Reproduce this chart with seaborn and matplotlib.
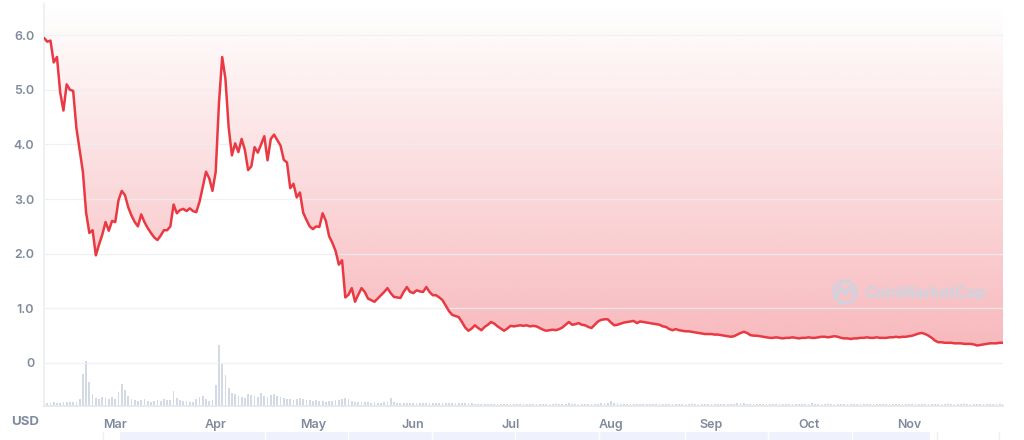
import matplotlib

matplotlib.use("Agg")
import matplotlib.dates as mdates
import matplotlib.pyplot as plt
import numpy as np
import pandas as pd
import seaborn as sns
from matplotlib.colors import to_rgb
from matplotlib.patches import Circle, Rectangle
from matplotlib.transforms import IdentityTransform

START_DATE = "2022-02-07"

# daily close, USD
PRICE_USD = [
    5.95, 5.88, 5.9, 5.5, 5.6, 4.95, 4.62, 5.1, 5.0, 4.98,
    4.3, 3.9, 3.5, 2.75, 2.38, 2.43, 1.97, 2.17, 2.35, 2.58,
    2.42, 2.6, 2.58, 2.98, 3.15, 3.07, 2.85, 2.7, 2.58, 2.5,
    2.72, 2.58, 2.47, 2.38, 2.3, 2.25, 2.33, 2.43, 2.43, 2.5,
    2.9, 2.74, 2.8, 2.82, 2.78, 2.83, 2.78, 2.76, 2.95, 3.22,
    3.5, 3.38, 3.15, 3.5, 4.75, 5.6, 5.2, 4.31, 3.8, 4.02,
    3.86, 4.1, 3.9, 3.53, 3.6, 3.95, 3.85, 4.0, 4.15, 3.71,
    4.1, 4.18, 4.08, 3.98, 3.72, 3.67, 3.2, 3.28, 3.03, 3.12,
    2.75, 2.62, 2.5, 2.45, 2.5, 2.49, 2.74, 2.6, 2.32, 2.2,
    2.05, 1.8, 1.88, 1.2, 1.25, 1.37, 1.12, 1.25, 1.37, 1.3,
    1.18, 1.15, 1.12, 1.18, 1.24, 1.3, 1.37, 1.28, 1.21, 1.2,
    1.19, 1.3, 1.39, 1.3, 1.28, 1.33, 1.31, 1.3, 1.39, 1.3,
    1.24, 1.24, 1.2, 1.15, 1.05, 0.95, 0.88, 0.86, 0.84, 0.75,
    0.65, 0.59, 0.63, 0.69, 0.64, 0.6, 0.66, 0.7, 0.75, 0.72,
    0.67, 0.63, 0.59, 0.63, 0.68, 0.67, 0.68, 0.69, 0.68, 0.69,
    0.67, 0.68, 0.67, 0.64, 0.61, 0.59, 0.6, 0.61, 0.6, 0.62,
    0.65, 0.7, 0.75, 0.7, 0.71, 0.73, 0.7, 0.69, 0.66, 0.64,
    0.7, 0.76, 0.79, 0.8, 0.8, 0.74, 0.69, 0.7, 0.72, 0.74,
    0.75, 0.76, 0.77, 0.73, 0.76, 0.75, 0.74, 0.73, 0.72, 0.71,
    0.7, 0.67, 0.66, 0.62, 0.6, 0.62, 0.6, 0.59, 0.58, 0.58,
    0.57, 0.56, 0.55, 0.54, 0.53, 0.53, 0.53, 0.52, 0.52, 0.51,
    0.5, 0.49, 0.48, 0.49, 0.52, 0.55, 0.57, 0.55, 0.51, 0.5,
    0.5, 0.49, 0.48, 0.47, 0.46, 0.46, 0.47, 0.46, 0.45, 0.46,
    0.46, 0.47, 0.46, 0.45, 0.46, 0.46, 0.47, 0.46, 0.46, 0.47,
    0.48, 0.48, 0.47, 0.48, 0.49, 0.48, 0.46, 0.45, 0.45, 0.44,
    0.45, 0.45, 0.46, 0.46, 0.47, 0.46, 0.46, 0.47, 0.46, 0.46,
    0.46, 0.47, 0.47, 0.48, 0.47, 0.48, 0.48, 0.49, 0.5, 0.52,
    0.54, 0.55, 0.53, 0.5, 0.46, 0.41, 0.38, 0.38, 0.37, 0.37,
    0.37, 0.36, 0.36, 0.36, 0.35, 0.35, 0.35, 0.34, 0.32, 0.33,
    0.34, 0.35, 0.36, 0.36, 0.36, 0.37, 0.37,
]

# daily traded volume, relative units
VOLUME = [
    3, 3, 3, 3.5, 3, 3, 4, 4, 4, 3.5,
    4, 7, 32, 45, 24, 12, 8, 7, 9, 8,
    7, 9, 7, 14, 22, 16, 10, 7, 6, 5,
    6, 7, 5, 4, 5, 6, 5, 7, 6, 6,
    15, 8, 6, 5, 5, 4, 4, 7, 9, 10,
    7, 5, 6, 21, 61, 42, 31, 18, 13, 12,
    10, 9, 8, 12, 11, 10, 9, 13, 10, 9,
    11, 12, 10, 9, 8, 7, 7, 6, 7, 8,
    7, 6, 6, 5, 6, 5, 5, 4, 5, 5,
    6, 6, 7, 8, 7, 5, 4, 4, 3.5, 4,
    3.5, 3, 3.5, 3, 3, 3.5, 4, 8, 3.5, 3,
    3, 2.5, 3, 2.5, 2.5, 3, 2.5, 2.5, 3, 2.5,
    2.5, 2.5, 2.5, 3, 2.5, 3, 3, 2.5, 2.5, 2.5,
    2.5, 3, 2.5, 2, 2, 2, 2, 2, 2, 2,
    2, 2, 2, 2, 2, 1.5, 1.5, 1.5, 1.5, 1.5,
    1.5, 1.5, 1.5, 1.5, 1.5, 1.5, 1.5, 1.5, 1.5, 2,
    2, 2, 2.5, 2, 2, 2, 2, 2, 2, 2,
    2, 2, 2.5, 2.5, 3, 5, 3, 2.5, 2, 2,
    2, 2, 2, 1.5, 1.5, 1.5, 1.5, 1.5, 1.5, 1.5,
    1.5, 1.5, 1.5, 1.5, 1.5, 1.5, 1.5, 1.5, 1.5, 1.5,
    1.5, 1.5, 2, 1.5, 1.5, 2, 1.5, 1.5, 1.5, 1.5,
    1.5, 1.5, 1.5, 2, 3, 2.5, 2.5, 2, 2, 1.5,
    1.5, 1.5, 1.5, 1.5, 1.5, 1.5, 1.5, 2, 1.5, 1.5,
    1.5, 1.5, 1.5, 2, 2, 1.5, 2, 2.5, 2, 1.5,
    1.5, 1.5, 1.5, 2, 1.5, 1.5, 1.5, 1.5, 1.5, 1.5,
    1.5, 1.5, 1.5, 1.5, 1.5, 1.5, 1.5, 1.5, 1.5, 1.5,
    1.5, 1.5, 1.5, 1.5, 1.5, 1.5, 2, 2, 1.5, 1.5,
    2, 2, 1.5, 1.5, 2, 2, 1.5, 1.5, 1.5, 1.5,
    1.5, 1.5, 1.5, 1.5, 1.5, 1.5, 1.5, 1.5, 1.5, 1.5,
    1.5, 1.5, 1.5, 1.5, 1.5, 1.5, 1.5,
]

Y_TICKS = [0, 1, 2, 3, 4, 5, 6]
Y_TICK_LABELS = ["0", "1.0", "2.0", "3.0", "4.0", "5.0", "6.0"]
CURRENCY_LABEL = "USD"
WATERMARK = "CoinMarketCap"

RED = "#ea3943"
GREY_TEXT = "#808a9d"
GRID = "#eceff3"
W, H = 1024, 440


def main() -> None:
    df = pd.DataFrame(
        {
            "date": pd.date_range(START_DATE, periods=len(PRICE_USD), freq="D"),
            "price": PRICE_USD,
            "volume": VOLUME,
        }
    )

    sns.set_theme(style="white")
    plt.rcParams["font.family"] = ["Inter", "DejaVu Sans"]

    fig = plt.figure(figsize=(W / 100, H / 100), dpi=100)
    ax = fig.add_axes([44 / W, (H - 406) / H, (1003 - 44) / W, (406 - 4) / H])
    y_low, y_top = -0.787, 6.57
    x0, x1 = df["date"].iloc[0], df["date"].iloc[-1]

    # volume bars on a hidden twin axis at the bottom
    ax2 = ax.twinx()
    ax2.bar(df["date"], df["volume"], width=0.55, color="#d3d9e5", linewidth=0, zorder=1)
    ax2.set_ylim(0, max(VOLUME) / 0.152)
    ax2.axis("off")

    # gradient fill between the price line and the top
    xn = mdates.date2num(df["date"])
    poly = ax.fill_between(xn, df["price"], y_top, facecolor="none", edgecolor="none")
    grad = np.linspace(0, 1, 256).reshape(-1, 1)
    rgba = np.zeros((256, 1, 4))
    rgba[..., :3] = to_rgb(RED)
    rgba[..., 3] = 0.37 * (1 - grad)
    im = ax.imshow(
        rgba, extent=[xn[0], xn[-1], 0, y_top], origin="lower", aspect="auto", zorder=0.5
    )
    im.set_clip_path(poly.get_paths()[0], transform=ax.transData)
    ax.set_xlim(x0, x1)
    ax.set_ylim(y_low, y_top)

    for t in Y_TICKS:
        ax.axhline(t, color=GRID, lw=0.9, alpha=0.8, zorder=0.8)

    sns.lineplot(data=df, x="date", y="price", ax=ax, color=RED, lw=1.8, zorder=3)

    ax.set_yticks(Y_TICKS)
    ax.set_yticklabels(Y_TICK_LABELS)
    ax.xaxis.set_major_locator(mdates.MonthLocator())
    ax.xaxis.set_major_formatter(mdates.DateFormatter("%b"))
    ax.tick_params(axis="y", length=0, pad=7, labelsize=9, labelcolor=GREY_TEXT)
    ax.tick_params(axis="x", length=4, width=0.8, color="#a6b0c3", direction="out",
                   pad=5, labelsize=9, labelcolor=GREY_TEXT)
    for lab in ax.get_xticklabels() + ax.get_yticklabels():
        lab.set_fontweight("semibold")
    ax.set_xlabel("")
    ax.set_ylabel("")
    for side in ["top", "right"]:
        ax.spines[side].set_visible(False)
    ax.spines["left"].set_color(GRID)
    ax.spines["bottom"].set_color("#e4e8ee")
    ax.patch.set_alpha(0)
    ax.set_zorder(2)
    ax2.set_zorder(1)

    fig.text(25 / W, 1 - 422 / H, CURRENCY_LABEL, ha="center", va="center",
             fontsize=9.5, fontweight="bold", color=GREY_TEXT)

    # watermark (pixel coordinates, origin bottom-left), drawn above the axes
    wm = "#cdd3df"
    px = IdentityTransform()
    fig.patches.append(Circle((845, H - 292), 11, transform=px,
                              fill=False, lw=2.2, ec=wm, zorder=10))
    fig.add_artist(plt.Line2D(
        [837, 841, 845, 849, 853],
        [H - 296, H - 287, H - 295, H - 287, H - 293],
        transform=px, color=wm, lw=2, zorder=10))
    fig.text(864 / W, 1 - 293 / H, WATERMARK, ha="left", va="center",
             fontsize=11.5, fontweight="bold", color=wm, zorder=10)

    # range selector strip at the bottom edge
    fig.patches.append(Rectangle((120 / W, 0), (930 - 120) / W, 8 / H,
                                 transform=fig.transFigure, color="#eff2fc", lw=0))
    for xd in [265, 348, 432, 515, 599, 685, 768, 852]:
        fig.add_artist(plt.Line2D([xd / W, xd / W], [0, 8 / H], transform=fig.transFigure,
                                  color="white", lw=1))
    for xd in [103, 937, 999]:
        fig.add_artist(plt.Line2D([xd / W, xd / W], [0, 8 / H], transform=fig.transFigure,
                                  color="#eceff3", lw=1))

    fig.savefig("out.png", dpi=100)
    plt.close(fig)


if __name__ == "__main__":
    main()
